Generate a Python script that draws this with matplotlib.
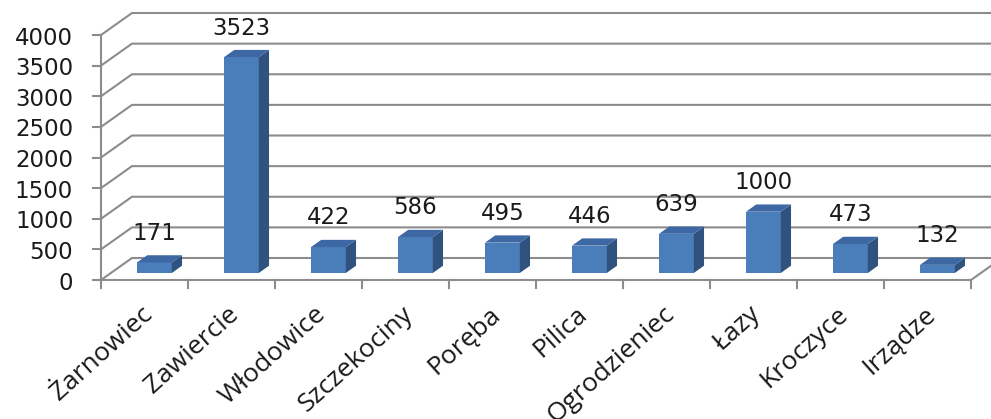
import numpy as np
import matplotlib
matplotlib.use("Agg")
import matplotlib.pyplot as plt
from matplotlib.patches import Polygon

""" ------------------- Data ------------------- """

categories = ['Żarnowiec', 'Zawiercie', 'Włodowice', 'Szczekociny', 'Poręba',
              'Pilica', 'Ogrodzieniec', 'Łazy', 'Kroczyce', 'Irządze']
values = [171, 3523, 422, 586, 495, 446, 639, 1000, 473, 132]
y_ticks = [0, 500, 1000, 1500, 2000, 2500, 3000, 3500, 4000]

""" ------------------- Style ------------------- """

# oblique projection of the depth axis (x in category units, y in value units)
DX = 0.356
DY = 359
Z0, Z1 = 0.32, 0.65     # bar depth range (0 = front, 1 = back wall)
BAR_W = 0.40

grid_col = '#8c8c8c'
front_col = '#4a7ebb'
side_col = '#30527f'
top_col = '#3d68a3'

fig = plt.figure(figsize=(9.91, 4.19), dpi=100)
ax = fig.add_axes([0, 0, 1, 1])
ax.set_xlim(-101 / 87, 890 / 87)
ax.set_ylim(-139 / 0.06125, 280 / 0.06125)
ax.axis('off')

n = len(categories)
x_far = n + DX + 0.5

# back wall gridlines + left wall diagonals
for v in y_ticks:
  ax.plot([0, DX, x_far], [v, v + DY, v + DY], color=grid_col, lw=1.5, zorder=1)

# front axes
ax.plot([0, 0], [0, y_ticks[-1]], color=grid_col, lw=1.5, zorder=2)
ax.plot([0, n, n + DX], [0, 0, DY], color=grid_col, lw=1.5, zorder=2)

# tick marks
for v in y_ticks:
  ax.plot([-8 / 87, 0], [v, v], color=grid_col, lw=1.5, zorder=2)
  ax.text(-0.32, v - 50, str(v), ha='right', va='center', fontsize=16.5,
          family='DejaVu Sans', color='#1a1a1a')
for i in range(n + 1):
  ax.plot([i, i], [0, -8 / 0.06125], color=grid_col, lw=1.5, zorder=2)

# 3d bars
for i, (cat, v) in enumerate(zip(categories, values)):
  xl = i + 0.5 - BAR_W / 2 + Z0 * DX
  xr = xl + BAR_W
  yb = Z0 * DY
  yt = v + Z0 * DY
  ddx = (Z1 - Z0) * DX
  ddy = (Z1 - Z0) * DY
  ax.add_patch(Polygon([(xl, yb), (xr, yb), (xr, yt), (xl, yt)],
                       closed=True, fc=front_col, ec='none', zorder=3))
  ax.add_patch(Polygon([(xr, yb), (xr + ddx, yb + ddy), (xr + ddx, yt + ddy), (xr, yt)],
                       closed=True, fc=side_col, ec='none', zorder=3))
  ax.add_patch(Polygon([(xl, yt), (xr, yt), (xr + ddx, yt + ddy), (xl + ddx, yt + ddy)],
                       closed=True, fc=top_col, ec='none', zorder=3))
  ax.text(i + 0.5 + Z0 * DX, v + Z1 * DY + 170, str(v), ha='center', va='bottom',
          fontsize=16.5, family='DejaVu Sans', color='#1a1a1a', zorder=4)
  ax.text(i + 0.55, -500, cat, rotation=42, rotation_mode='anchor', ha='right',
          va='center', fontsize=19, family='Open Sans', color='#1a1a1a')

fig.savefig('out.png', dpi=100)
